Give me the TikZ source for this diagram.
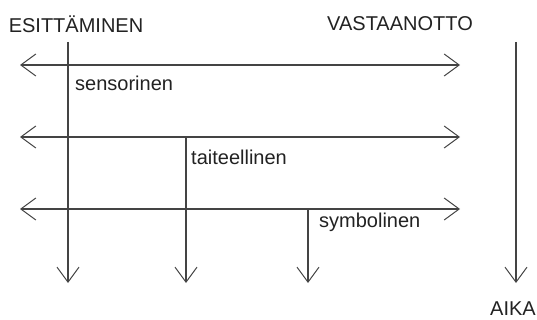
\documentclass[tikz,border=0pt]{standalone}
\usepackage{fontspec}
\setmainfont{Liberation Sans}
\usetikzlibrary{arrows.meta}
\definecolor{ink}{HTML}{444444}
\definecolor{txt}{HTML}{222222}
\tikzset{
  tip/.tip={Straight Barb[length=15pt,width=22pt,line width=1pt]},
  conn/.style={draw=ink, line width=1.1pt, -tip},
  dconn/.style={draw=ink, line width=1.1pt, tip-tip},
  lbl/.style={font=\fontsize{20}{24}\selectfont, text=txt, inner sep=0pt},
}
\begin{document}
\begin{tikzpicture}[x=1pt,y=-1pt]
\useasboundingbox (0,0) rectangle (537,320);
% titles
\node[lbl] (esit) at (76,24) {ESITTÄMINEN};
\node[lbl] (vast) at (400,24) {VASTAANOTTO};
\node[lbl, anchor=east] (aika) at (536,309) {AIKA};
\node[lbl, anchor=west] (sens) at (75,83) {sensorinen};
\node[lbl, anchor=west] (tait) at (191,157) {taiteellinen};
\node[lbl, anchor=west] (symb) at (319,222) {symbolinen};
% coordinates
\coordinate (h1l) at (20,65);  \coordinate (h1r) at (460,65);
\coordinate (h2l) at (20,137); \coordinate (h2r) at (460,137);
\coordinate (h3l) at (20,209); \coordinate (h3r) at (460,209);
\coordinate (v1t) at (68,42);  \coordinate (v1b) at (68,283);
\coordinate (v2t) at (186,137); \coordinate (v2b) at (186,283);
\coordinate (v3t) at (308,209); \coordinate (v3b) at (308,283);
\coordinate (v4t) at (516,42); \coordinate (v4b) at (516,283);
% arrows
\draw[dconn] (h1l) -- (h1r);
\draw[dconn] (h2l) -- (h2r);
\draw[dconn] (h3l) -- (h3r);
\draw[conn] (v1t) -- (v1b);
\draw[conn] (v2t) -- (v2b);
\draw[conn] (v3t) -- (v3b);
\draw[conn] (v4t) -- (v4b);
\end{tikzpicture}
\end{document}
